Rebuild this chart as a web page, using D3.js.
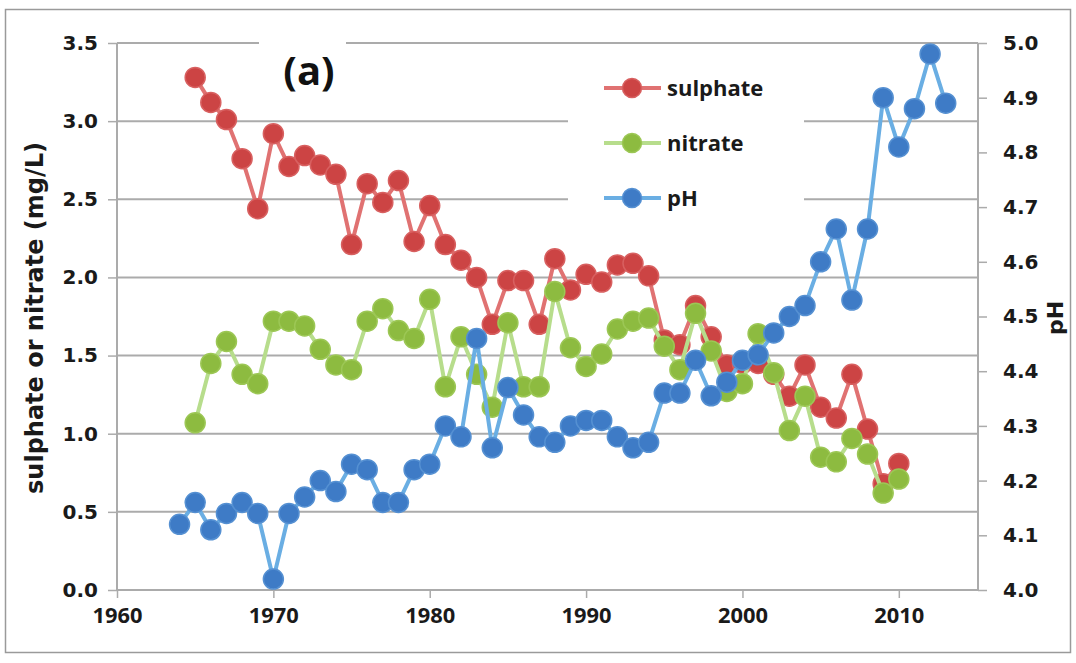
<!DOCTYPE html>
<html>
<head>
<meta charset="utf-8">
<script src="https://cdn.jsdelivr.net/npm/d3@7"></script>
<style>
  html, body { margin: 0; padding: 0; background: #fff; }
  svg { display: block; }
</style>
</head>
<body>
<svg id="chart" width="1076" height="663"></svg>
<script>
// ---- data ----
const sulphateYears = d3.range(1965, 2011);
const sulphate = [3.28, 3.12, 3.01, 2.76, 2.44, 2.92, 2.71, 2.78, 2.72, 2.66,
  2.21, 2.60, 2.48, 2.62, 2.23, 2.46, 2.21, 2.11, 2.00, 1.70,
  1.98, 1.98, 1.70, 2.12, 1.92, 2.02, 1.97, 2.08, 2.09, 2.01,
  1.60, 1.57, 1.82, 1.62, 1.44, 1.45, 1.45, 1.38, 1.24, 1.44,
  1.17, 1.10, 1.38, 1.03, 0.68, 0.81];
const nitrateYears = d3.range(1965, 2011);
const nitrate = [1.07, 1.45, 1.59, 1.38, 1.32, 1.72, 1.72, 1.69, 1.54, 1.44,
  1.41, 1.72, 1.80, 1.66, 1.61, 1.86, 1.30, 1.62, 1.38, 1.17,
  1.71, 1.30, 1.30, 1.91, 1.55, 1.43, 1.51, 1.67, 1.72, 1.74,
  1.56, 1.41, 1.77, 1.53, 1.27, 1.32, 1.64, 1.39, 1.02, 1.24,
  0.85, 0.82, 0.97, 0.87, 0.62, 0.71];
const phYears = d3.range(1964, 2014);
const ph = [4.12, 4.16, 4.11, 4.14, 4.16, 4.14, 4.02, 4.14, 4.17, 4.20,
  4.18, 4.23, 4.22, 4.16, 4.16, 4.22, 4.23, 4.30, 4.28, 4.46,
  4.26, 4.37, 4.32, 4.28, 4.27, 4.30, 4.31, 4.31, 4.28, 4.26,
  4.27, 4.36, 4.36, 4.42, 4.355, 4.38, 4.42, 4.43, 4.47, 4.50,
  4.52, 4.60, 4.66, 4.53, 4.66, 4.90, 4.81, 4.88, 4.98, 4.89];
const xTicks = [1960, 1970, 1980, 1990, 2000, 2010];
const yLeftTicks = [0, 0.5, 1.0, 1.5, 2.0, 2.5, 3.0, 3.5];
const yRightTicks = [4.0, 4.1, 4.2, 4.3, 4.4, 4.5, 4.6, 4.7, 4.8, 4.9, 5.0];
const seriesNames = ["sulphate", "nitrate", "pH"];

// ---- layout ----
const L = 117, R = 977, T = 43, B = 590;
const svg = d3.select("#chart");

const x = d3.scaleLinear().domain([1960, 2015]).range([L, R]);
const yL = d3.scaleLinear().domain([0, 3.5]).range([B, T]);
const yR = d3.scaleLinear().domain([4.0, 5.0]).range([B, T]);

const styles = {
  sulphate: { line: "#E07272", fill: "#CC4444", stroke: "#D86060" },
  nitrate:  { line: "#B7DD8C", fill: "#8DBB40", stroke: "#9CC755" },
  pH:       { line: "#6AAEE3", fill: "#3E7BC6", stroke: "#5590D2" }
};

// outer frame
svg.append("rect").attr("x", 5.5).attr("y", 9.5).attr("width", 1065).attr("height", 643)
  .attr("fill", "#fff").attr("stroke", "#9a9a9a").attr("stroke-width", 1.5);

// gridlines
const grid = svg.append("g");
grid.selectAll("line").data(yLeftTicks.filter(d => d > 0)).join("line")
  .attr("x1", L).attr("x2", R + 1)
  .attr("y1", d => yL(d)).attr("y2", d => yL(d))
  .attr("stroke", "#ababab").attr("stroke-width", 2);

// left axis
const gL = svg.append("g").attr("transform", `translate(${L},0)`)
  .call(d3.axisLeft(yL).tickValues(yLeftTicks).tickFormat(d3.format(".1f")).tickSize(9).tickPadding(10));
// right axis
const gR = svg.append("g").attr("transform", `translate(${R + 1},0)`)
  .call(d3.axisRight(yR).tickValues(yRightTicks).tickFormat(d3.format(".1f")).tickSize(9).tickPadding(16));
// bottom axis
const gB = svg.append("g").attr("transform", `translate(0,${B})`)
  .call(d3.axisBottom(x).tickValues(xTicks).tickFormat(d3.format("d")).tickSize(8).tickPadding(5));

[gL, gR, gB].forEach(g => {
  g.select(".domain").attr("stroke", "#ababab").attr("stroke-width", 2);
  g.selectAll(".tick line").attr("stroke", "#ababab").attr("stroke-width", 1.5);
  g.selectAll(".tick text").attr("fill", "#1a1a1a");
});
gL.select(".domain").attr("d", `M0,${B}V${T}`);
gR.select(".domain").attr("d", `M0,${B}V${T}`);
gB.select(".domain").attr("d", `M${L},0H${R + 1}`);
gL.selectAll(".tick text").style("font-family", "'DejaVu Sans', Verdana, sans-serif")
  .style("font-weight", "bold").style("font-size", "20px");
gR.selectAll(".tick text").style("font-family", "'DejaVu Sans', Verdana, sans-serif")
  .style("font-weight", "bold").style("font-size", "20px");
gB.selectAll(".tick text").style("font-family", "'Open Sans', sans-serif")
  .style("font-weight", "bold").style("font-size", "22px").attr("dy", "0.9em")
  .attr("textLength", 50).attr("lengthAdjust", "spacingAndGlyphs");

// white boxes (title label and legend)
svg.append("rect").attr("x", 259).attr("y", 34).attr("width", 87).attr("height", 66).attr("fill", "#fff");
svg.append("rect").attr("x", 568).attr("y", 56).attr("width", 236).attr("height", 176).attr("fill", "#fff");

// series
const series = [
  { name: "sulphate", xs: sulphateYears, vs: sulphate, y: yL },
  { name: "nitrate",  xs: nitrateYears,  vs: nitrate,  y: yL },
  { name: "pH",       xs: phYears,       vs: ph,       y: yR }
];
series.forEach(s => {
  const st = styles[s.name];
  const pts = s.xs.map((yr, i) => [yr, s.vs[i]]);
  const g = svg.append("g");
  g.append("path").datum(pts)
    .attr("d", d3.line().x(d => x(d[0])).y(d => s.y(d[1])))
    .attr("fill", "none").attr("stroke", st.line).attr("stroke-width", 4)
    .attr("stroke-linejoin", "round");
  g.selectAll("circle").data(pts).join("circle")
    .attr("cx", d => x(d[0])).attr("cy", d => s.y(d[1])).attr("r", 10)
    .attr("fill", st.fill).attr("stroke", st.stroke).attr("stroke-width", 1.5);
});

// legend
const lg = svg.append("g");
seriesNames.forEach((n, i) => {
  const st = styles[n];
  const cy = 88 + i * 55;
  lg.append("line").attr("x1", 604).attr("x2", 661).attr("y1", cy).attr("y2", cy)
    .attr("stroke", st.line).attr("stroke-width", 4);
  lg.append("circle").attr("cx", 632).attr("cy", cy).attr("r", 9.5)
    .attr("fill", st.fill).attr("stroke", st.stroke).attr("stroke-width", 1.5);
  lg.append("text").attr("x", 667).attr("y", cy).attr("dy", "0.35em")
    .style("font-family", "'Open Sans', sans-serif").style("font-weight", "bold")
    .style("font-size", "22px").attr("fill", "#1a1a1a").text(n);
});

// panel label
svg.append("text").attr("x", 309).attr("y", 71).attr("dy", "0.36em").attr("text-anchor", "middle")
  .style("font-family", "'Open Sans', sans-serif").style("font-weight", "bold")
  .style("font-size", "40px").attr("fill", "#111").text("(a)");

// axis titles
svg.append("text").attr("transform", "translate(35,318) rotate(-90)")
  .attr("text-anchor", "middle").attr("dy", "0.35em")
  .style("font-family", "'DejaVu Sans', Verdana, sans-serif").style("font-weight", "bold")
  .style("font-size", "24px").attr("fill", "#1a1a1a").text("sulphate or nitrate (mg/L)");
svg.append("text").attr("transform", "translate(1055,318) rotate(-90)")
  .attr("text-anchor", "middle").attr("dy", "0.35em")
  .style("font-family", "'DejaVu Sans', Verdana, sans-serif").style("font-weight", "bold")
  .style("font-size", "22px").attr("fill", "#1a1a1a").text("pH");
</script>
</body>
</html>
